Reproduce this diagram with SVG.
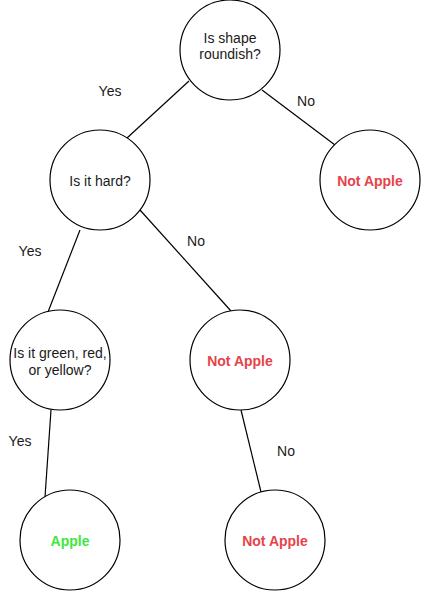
<svg xmlns="http://www.w3.org/2000/svg" width="421" height="591" viewBox="0 0 421 591">
<style>
.n{fill:#fff;stroke:#000;stroke-width:1.2}
.e{stroke:#000;stroke-width:1.2;fill:none}
text{font-family:"Liberation Sans",Arial,sans-serif;font-size:14px;fill:#1a1a1a;text-anchor:middle}
.no{font-weight:bold;fill:#E5434B}
.yes{font-weight:bold;fill:#3EE63E}
</style>
<rect width="421" height="591" fill="#fff"/>
<g id="edges">
<line class="e" x1="189" y1="81" x2="127" y2="138"/>
<line class="e" x1="262" y1="90" x2="335" y2="145"/>
<line class="e" x1="80" y1="230" x2="48" y2="312"/>
<line class="e" x1="140" y1="210" x2="231" y2="311"/>
<line class="e" x1="51" y1="410" x2="45" y2="497"/>
<line class="e" x1="241" y1="410" x2="261" y2="492"/>
<text x="110" y="96">Yes</text>
<text x="306" y="106">No</text>
<text x="30" y="256">Yes</text>
<text x="196" y="246">No</text>
<text x="20" y="446">Yes</text>
<text x="286" y="456">No</text>
</g>
<g id="root">
<circle class="n" cx="230" cy="50" r="50"/>
<text x="230" y="43">Is shape</text>
<text x="230" y="59">roundish?</text>
</g>
<g id="notapple1">
<circle class="n" cx="370" cy="180" r="50"/>
<text class="no" x="370" y="186">Not Apple</text>
</g>
<g id="hard">
<circle class="n" cx="100" cy="180" r="50"/>
<text x="100" y="186">Is it hard?</text>
</g>
<g id="color">
<circle class="n" cx="60" cy="360" r="50"/>
<text x="60" y="358">Is it green, red,</text>
<text x="60" y="375">or yellow?</text>
</g>
<g id="notapple2">
<circle class="n" cx="240" cy="360" r="50"/>
<text class="no" x="240" y="366">Not Apple</text>
</g>
<g id="apple">
<circle class="n" cx="70" cy="540" r="50"/>
<text class="yes" x="70" y="546">Apple</text>
</g>
<g id="notapple3">
<circle class="n" cx="275" cy="540" r="50"/>
<text class="no" x="275" y="546">Not Apple</text>
</g>
</svg>
